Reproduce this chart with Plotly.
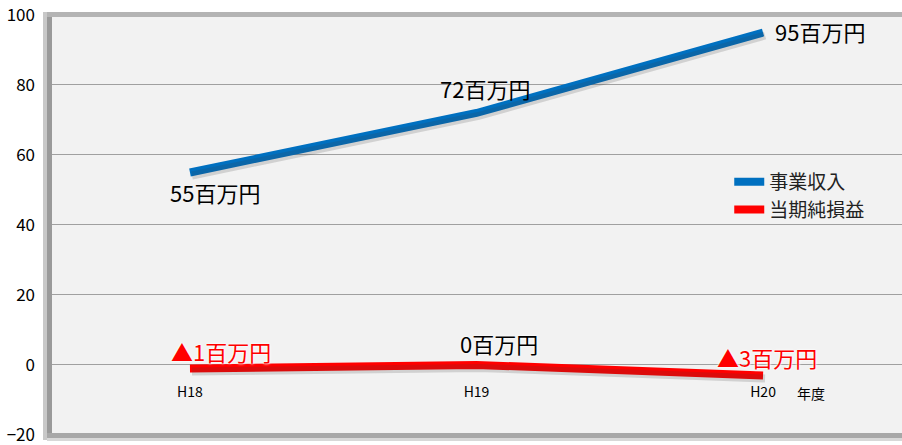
import plotly.graph_objects as go

years = ["H18", "H19", "H20"]
revenue = [55, 72, 95]
net_income = [-1, 0, -3]
revenue_labels = ["55百万円", "72百万円", "95百万円"]
income_labels = ["▲1百万円", "0百万円", "▲3百万円"]
series_names = ["事業収入", "当期純損益"]
y_ticks = [-20, 0, 20, 40, 60, 80, 100]

BLUE = "#0070C0"
RED = "#FF0000"
FONT = "Noto Sans CJK JP"

W, H = 902, 445
ML, MR, MT, MB = 51, 0, 15, 10
PW, PH = W - ML - MR, H - MT - MB
XR = [-0.485, 2.485]
YR = [-20.02, 100]
dx = (XR[1] - XR[0]) / PW
dy = (YR[1] - YR[0]) / PH

fig = go.Figure()

# soft drop shadows (same data on an offset overlay axis)
for vals in (revenue, net_income):
    fig.add_trace(go.Scatter(x=[0, 1, 2], y=vals, mode="lines", xaxis="x2", yaxis="y2",
                             line=dict(color="rgba(60,60,60,0.18)", width=8),
                             showlegend=False, hoverinfo="skip"))

fig.add_trace(go.Scatter(x=years, y=revenue, mode="lines", name=series_names[0],
                         line=dict(color=BLUE, width=8)))
fig.add_trace(go.Scatter(x=years, y=net_income, mode="lines", name=series_names[1],
                         line=dict(color=RED, width=8)))

rev_shift = [(25, -20), (8, 25), (57, 2)]
inc_shift = [(31, 17), (22, 22), (4, 18)]
for i, (yr, v, t) in enumerate(zip(years, revenue, revenue_labels)):
    fig.add_annotation(x=yr, y=v, text=t, showarrow=False, xshift=rev_shift[i][0],
                       yshift=rev_shift[i][1], font=dict(family=FONT, size=22, color="#000000"))
for i, (yr, v, t) in enumerate(zip(years, net_income, income_labels)):
    col = RED if t.startswith("▲") else "#000000"
    fig.add_annotation(x=yr, y=v, text=t, showarrow=False, xshift=inc_shift[i][0],
                       yshift=inc_shift[i][1],
                       font=dict(family=FONT, size=22, color=col,
                                 shadow="0 0 3px white, 0 0 2px white"))

fig.add_annotation(x=years[-1], y=0, text="年度", showarrow=False, xshift=48, yshift=-28,
                   font=dict(family=FONT, size=14, color="#000000"))

# frame bands
def px_x(p):
    return (p - ML) / PW
def px_y(p):
    return (H - MB - p) / PH

shapes = [
    dict(type="rect", xref="paper", yref="paper", x0=px_x(43), x1=px_x(47), y0=px_y(440), y1=px_y(12),
         fillcolor="#c8c8c8", line=dict(width=0), layer="above"),
    dict(type="rect", xref="paper", yref="paper", x0=px_x(47), x1=px_x(52), y0=px_y(437), y1=px_y(13),
         fillcolor="#9a9a9a", line=dict(width=0), layer="above"),
    dict(type="rect", xref="paper", yref="paper", x0=px_x(47), x1=px_x(902), y0=px_y(17), y1=px_y(12),
         fillcolor="#b4b4b4", line=dict(width=0), layer="above"),
    dict(type="rect", xref="paper", yref="paper", x0=px_x(47), x1=px_x(902), y0=px_y(438), y1=px_y(433),
         fillcolor="#a8a8a8", line=dict(width=0), layer="above"),
    dict(type="rect", xref="paper", yref="paper", x0=px_x(47), x1=px_x(902), y0=px_y(441), y1=px_y(438),
         fillcolor="#d8d8d8", line=dict(width=0), layer="above"),
]

fig.update_layout(
    width=W, height=H,
    margin=dict(l=ML, r=MR, t=MT, b=MB, pad=0),
    paper_bgcolor="white", plot_bgcolor="#f2f2f2",
    font=dict(family=FONT, color="#000000"),
    shapes=shapes,
    showlegend=True,
    legend=dict(x=0.797, y=0.648, xanchor="left", yanchor="top", bgcolor="rgba(0,0,0,0)",
                font=dict(family=FONT, size=19, color="#222222"), itemwidth=30,
                tracegroupgap=0),
    xaxis=dict(type="category", range=XR, anchor="free", position=20 / 120,
               showgrid=False, zeroline=False, showline=False,
               ticks="outside", ticklen=0, ticklabelstandoff=14,
               tickfont=dict(family=FONT, size=14, color="#000000")),
    yaxis=dict(range=YR, tickvals=y_ticks, showgrid=True, gridcolor="#a0a0a0", gridwidth=1,
               zeroline=False, showline=False, ticks="", ticklabelstandoff=15,
               ticklabeloverflow="allow",
               tickfont=dict(family=FONT, size=17, color="#000000")),
    xaxis2=dict(range=[XR[0] - 2 * dx, XR[1] - 2 * dx], overlaying="x", visible=False, anchor="y2"),
    yaxis2=dict(range=[YR[0] + 3 * dy, YR[1] + 3 * dy], overlaying="y", visible=False, anchor="x2"),
)

fig.write_html("out.html", config={"displayModeBar": False},
               post_script="document.body.style.margin='0px';document.body.style.overflow='hidden';")
